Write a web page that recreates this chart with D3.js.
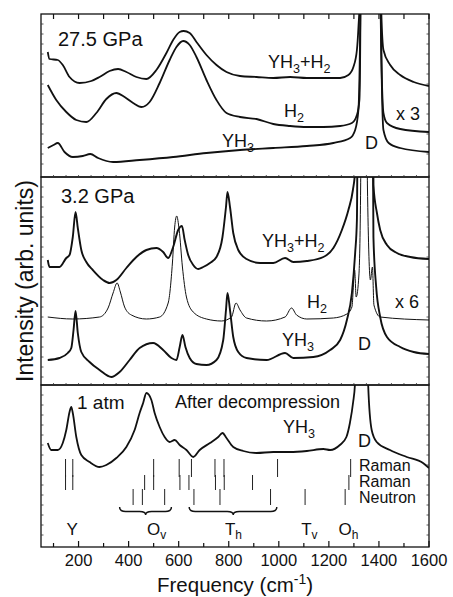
<!DOCTYPE html>
<html><head><meta charset="utf-8">
<script src="https://cdn.jsdelivr.net/npm/d3@7"></script>
<style>
html,body{margin:0;padding:0;background:#fff;}
svg text{font-family:"Liberation Sans",Arial,sans-serif;fill:#111;}
</style></head>
<body>
<svg id="chart" width="453" height="597"></svg>
<script>
// ---------------- DATA ----------------
const freqTicks = [200, 400, 600, 800, 1000, 1200, 1400, 1600];
const freqDomain = [50, 1600];

// Panel 1: 27.5 GPa  [frequency, intensity]
const p1_YH3H2 = [[77,125],[84,118],[117,117],[137,112],[164,100],[204,94],[251,96],[284,100],[324,106],[358,108],[391,105],[431,100],[471,98],[511,107],[551,124],[578,137],[604,145],[620,146],[644,144],[671,135],[711,122],[751,112],[791,105],[845,101],[911,100],[978,99],[1045,100],[1112,99],[1178,99],[1245,99],[1278,102],[1298,110],[1312,127],[1318,149],[1326,200],[1330,400],[1402,400],[1406,200],[1418,127],[1445,112],[1485,102],[1539,95],[1600,91]];
const p1_H2 = [[77,92],[111,77],[151,65],[191,57],[231,55],[271,64],[311,78],[351,84],[384,80],[418,74],[451,70],[484,75],[524,94],[564,117],[591,130],[618,136],[644,132],[671,120],[711,97],[751,77],[791,64],[845,60],[911,58],[978,53],[1045,51],[1112,50],[1178,50],[1245,51],[1292,54],[1312,62],[1322,77],[1327,200],[1330,400],[1402,400],[1405,200],[1418,64],[1432,54],[1485,48],[1600,45]];
const p1_YH3 = [[77,29],[100,32],[117,34],[144,25],[177,20],[217,21],[247,23],[278,19],[338,15],[444,17],[578,20],[711,24],[845,27],[978,29],[1112,31],[1218,34],[1285,39],[1305,47],[1318,67],[1327,200],[1330,400],[1402,400],[1406,200],[1418,47],[1439,34],[1485,29],[1600,25]];

// Panel 2: 3.2 GPa
const p2_YH3H2 = [[77,125],[84,118],[124,118],[151,127],[164,130],[177,148],[188,173],[197,157],[211,135],[231,123],[257,115],[298,105],[324,102],[351,105],[391,117],[431,128],[471,135],[511,137],[538,133],[558,127],[578,138],[598,155],[613,159],[624,145],[638,130],[658,120],[678,116],[698,118],[725,122],[751,128],[775,148],[789,178],[795,193],[805,178],[818,152],[838,135],[871,126],[925,122],[978,122],[1025,127],[1058,123],[1112,124],[1178,128],[1218,137],[1252,155],[1278,175],[1296,195],[1305,215],[1310,400],[1374,400],[1378,200],[1392,172],[1405,155],[1432,140],[1472,132],[1525,128],[1600,126]];
const p2_H2 = [[77,68],[177,66],[284,68],[318,77],[338,92],[354,102],[367,93],[384,78],[411,70],[471,66],[524,68],[558,82],[575,122],[584,158],[592,169],[602,155],[615,118],[631,88],[658,73],[711,66],[771,64],[811,68],[829,82],[845,75],[871,67],[951,64],[1025,68],[1051,77],[1071,70],[1112,66],[1218,67],[1272,71],[1292,78],[1303,115],[1309,88],[1320,110],[1327,200],[1330,400],[1351,400],[1354,200],[1366,105],[1374,118],[1380,80],[1405,68],[1600,65]];
const p2_YH3 = [[77,25],[124,27],[157,32],[171,37],[180,55],[188,74],[197,52],[211,33],[244,23],[284,15],[331,8],[364,13],[404,25],[444,37],[498,42],[538,35],[571,27],[591,25],[604,38],[615,50],[627,38],[644,27],[671,21],[711,20],[751,25],[778,45],[789,75],[795,92],[805,75],[818,48],[838,33],[871,27],[951,25],[1025,32],[1058,27],[1138,28],[1205,35],[1245,45],[1272,65],[1292,92],[1305,132],[1312,165],[1318,400],[1372,400],[1378,148],[1389,98],[1405,68],[1432,48],[1485,38],[1539,33],[1600,31]];

// Panel 3: 1 atm, after decompression
const p3_YH3 = [[77,104],[91,97],[117,97],[137,104],[151,117],[164,135],[171,140],[177,134],[191,110],[211,92],[244,85],[284,80],[311,82],[351,89],[391,100],[424,117],[444,134],[458,144],[471,154],[491,147],[504,134],[524,120],[544,110],[564,105],[584,107],[604,102],[631,97],[658,90],[684,97],[725,104],[758,110],[775,114],[791,109],[818,100],[858,96],[911,94],[978,95],[1045,95],[1112,96],[1178,98],[1205,97],[1244,102],[1270,110],[1284,124],[1297,145],[1304,162],[1308,300],[1353,300],[1357,162],[1371,117],[1391,105],[1444,97],[1511,90],[1576,84],[1600,79]];

// Reference line positions (cm-1)
const raman1 = [148, 177, 500, 602, 651, 745, 781, 995, 1287];
const raman2 = [148, 177, 464, 500, 605, 641, 747, 782, 895, 1280];
const neutron = [418, 455, 544, 661, 765, 967, 1105, 1265];
const braces = [{name:"Ov", from:364, to:571, tip:468}, {name:"Th", from:642, to:992, tip:818}];
const siteLabels = [{main:"Y", sub:"", f:175}, {main:"O", sub:"v", f:512}, {main:"T", sub:"h", f:819}, {main:"T", sub:"v", f:1122}, {main:"O", sub:"h", f:1278}];
const rowNames = ["Raman", "Raman", "Neutron"];

// ---------------- DRAW ----------------
const svg = d3.select("#chart");
const L = 41, R = 429;
const x = d3.scaleLinear().domain(freqDomain).range([L, R]);

const panels = [
  {top:14, bottom:177, max:163},
  {top:177, bottom:385, max:208},
  {top:385, bottom:547, max:162}
];
panels.forEach(p => { p.y = d3.scaleLinear().domain([0, p.max]).range([p.bottom, p.top]); });

const defs = svg.append("defs");
panels.forEach((p,i) => {
  defs.append("clipPath").attr("id","clip"+i).append("rect")
    .attr("x", L).attr("y", p.top).attr("width", R-L).attr("height", p.bottom-p.top);
});

// reference row labels (drawn before curve so the curve overlays them)
const rowY = [471, 487, 503];
svg.append("g").selectAll("text").data(rowNames).join("text")
  .attr("x", 359).attr("y", (d,i) => rowY[i]).attr("font-size",16).text(d => d);

function drawLine(pi, data, w) {
  const p = panels[pi];
  const line = d3.line().x(d => x(d[0])).y(d => p.y(d[1])).curve(d3.curveMonotoneX);
  svg.append("path").attr("clip-path","url(#clip"+pi+")")
    .attr("d", line(data)).attr("fill","none").attr("stroke","#111")
    .attr("stroke-width", w).attr("stroke-linejoin","round");
}
drawLine(0, p1_YH3H2, 1.8);
drawLine(0, p1_H2, 1.8);
drawLine(0, p1_YH3, 1.8);
drawLine(1, p2_YH3H2, 1.9);
drawLine(1, p2_H2, 1.0);
drawLine(1, p2_YH3, 1.9);
drawLine(2, p3_YH3, 1.8);

// sticks
function sticks(arr, y0, y1) {
  svg.append("g").selectAll("line").data(arr).join("line")
    .attr("x1", d => x(d)).attr("x2", d => x(d))
    .attr("y1", y0).attr("y2", y1).attr("stroke","#222").attr("stroke-width",1);
}
sticks(raman1, 459, 477);
sticks(raman2, 475, 490);
sticks(neutron, 489, 505);

// braces
braces.forEach(b => {
  const x1 = x(b.from), x2 = x(b.to), xm = x(b.tip);
  const y0 = 507, h = 8, r = 6;
  const ym = y0 + h/2 + 0.5;
  const d = `M${x1},${y0} Q${x1},${ym} ${x1+r},${ym} L${xm-r},${ym} Q${xm},${ym} ${xm},${y0+h} Q${xm},${ym} ${xm+r},${ym} L${x2-r},${ym} Q${x2},${ym} ${x2},${y0}`;
  svg.append("path").attr("d", d).attr("fill","none").attr("stroke","#111").attr("stroke-width",1.4);
});

// site labels
siteLabels.forEach(s => {
  const t = svg.append("text").attr("x", x(s.f)).attr("y", 535).attr("text-anchor","middle").attr("font-size",17);
  t.append("tspan").text(s.main);
  if (s.sub) t.append("tspan").attr("font-size",12).attr("dy",4).text(s.sub);
});

// frames
panels.forEach(p => {
  svg.append("rect").attr("x", L).attr("y", p.top).attr("width", R-L).attr("height", p.bottom-p.top)
    .attr("fill","none").attr("stroke","#111").attr("stroke-width",1.3);
});

// bottom axis ticks (inward)
const minorTicks = d3.range(100, 1601, 100);
svg.append("g").selectAll("line").data(minorTicks).join("line")
  .attr("x1", d => x(d)).attr("x2", d => x(d))
  .attr("y1", 547).attr("y2", d => d % 200 === 0 ? 541 : 543)
  .attr("stroke","#111").attr("stroke-width",1.2);
// top axis ticks
svg.append("g").selectAll("line").data(minorTicks).join("line")
  .attr("x1", d => x(d)).attr("x2", d => x(d))
  .attr("y1", 14).attr("y2", 19)
  .attr("stroke","#111").attr("stroke-width",1.2);
// ticks on panel boundaries
const halfTicks = d3.range(100, 1601, 50);
[177, 385].forEach(yb => {
  svg.append("g").selectAll("line").data(halfTicks).join("line")
    .attr("x1", d => x(d)).attr("x2", d => x(d))
    .attr("y1", yb - 2).attr("y2", yb)
    .attr("stroke","#333").attr("stroke-width",0.8);
});
// small side ticks
panels.forEach(p => {
  const ys = d3.range(p.top + 10, p.bottom - 4, 10);
  svg.append("g").selectAll("line").data(ys).join("line")
    .attr("x1", L).attr("x2", L+2.5).attr("y1", d=>d).attr("y2", d=>d).attr("stroke","#333").attr("stroke-width",0.8);
  svg.append("g").selectAll("line").data(ys).join("line")
    .attr("x1", R-2.5).attr("x2", R).attr("y1", d=>d).attr("y2", d=>d).attr("stroke","#333").attr("stroke-width",0.8);
});

// tick labels
svg.append("g").selectAll("text").data(freqTicks).join("text")
  .attr("x", d => x(d)).attr("y", 566).attr("text-anchor","middle").attr("font-size",16.5)
  .text(d => d);

// axis titles
const xt = svg.append("text").attr("x", (L+R)/2).attr("y", 592).attr("text-anchor","middle").attr("font-size",20.5);
xt.append("tspan").text("Frequency (cm");
xt.append("tspan").attr("font-size",14).attr("dy",-8).text("-1");
xt.append("tspan").attr("dy",8).text(")");

svg.append("text").attr("transform","translate(33,281) rotate(-90)").attr("text-anchor","middle")
  .attr("font-size",23).text("Intensity (arb. units)");

// text labels with subscripts
function label(xp, yp, parts, size) {
  const t = svg.append("text").attr("x", xp).attr("y", yp).attr("font-size", size || 18);
  let sub = false;
  parts.forEach(pt => {
    const isSub = pt.startsWith("_");
    const txt = isSub ? pt.slice(1) : pt;
    const ts = t.append("tspan").text(txt);
    if (isSub && !sub) { ts.attr("font-size", (size||18)*0.7).attr("dy", 5); sub = true; }
    else if (!isSub && sub) { ts.attr("dy", -5); sub = false; }
    else if (isSub) ts.attr("font-size", (size||18)*0.7);
  });
  return t;
}
label(58, 46, ["27.5 GPa"], 20);
label(268, 68, ["YH","_3","+H","_2"]);
label(284, 117, ["H","_2"]);
label(396, 120, ["x 3"]);
label(222, 147, ["YH","_3"]);
label(365, 149, ["D"]);

label(61, 203, ["3.2 GPa"], 20);
label(262, 247, ["YH","_3","+H","_2"]);
label(307, 308, ["H","_2"]);
label(395, 308, ["x 6"]);
label(282, 346, ["YH","_3"]);
label(358, 350, ["D"]);

label(77, 409, ["1 atm"], 19);
label(175, 408, ["After decompression"]);
label(283, 433, ["YH","_3"]);
label(358, 447, ["D"]);
</script>
</body></html>
